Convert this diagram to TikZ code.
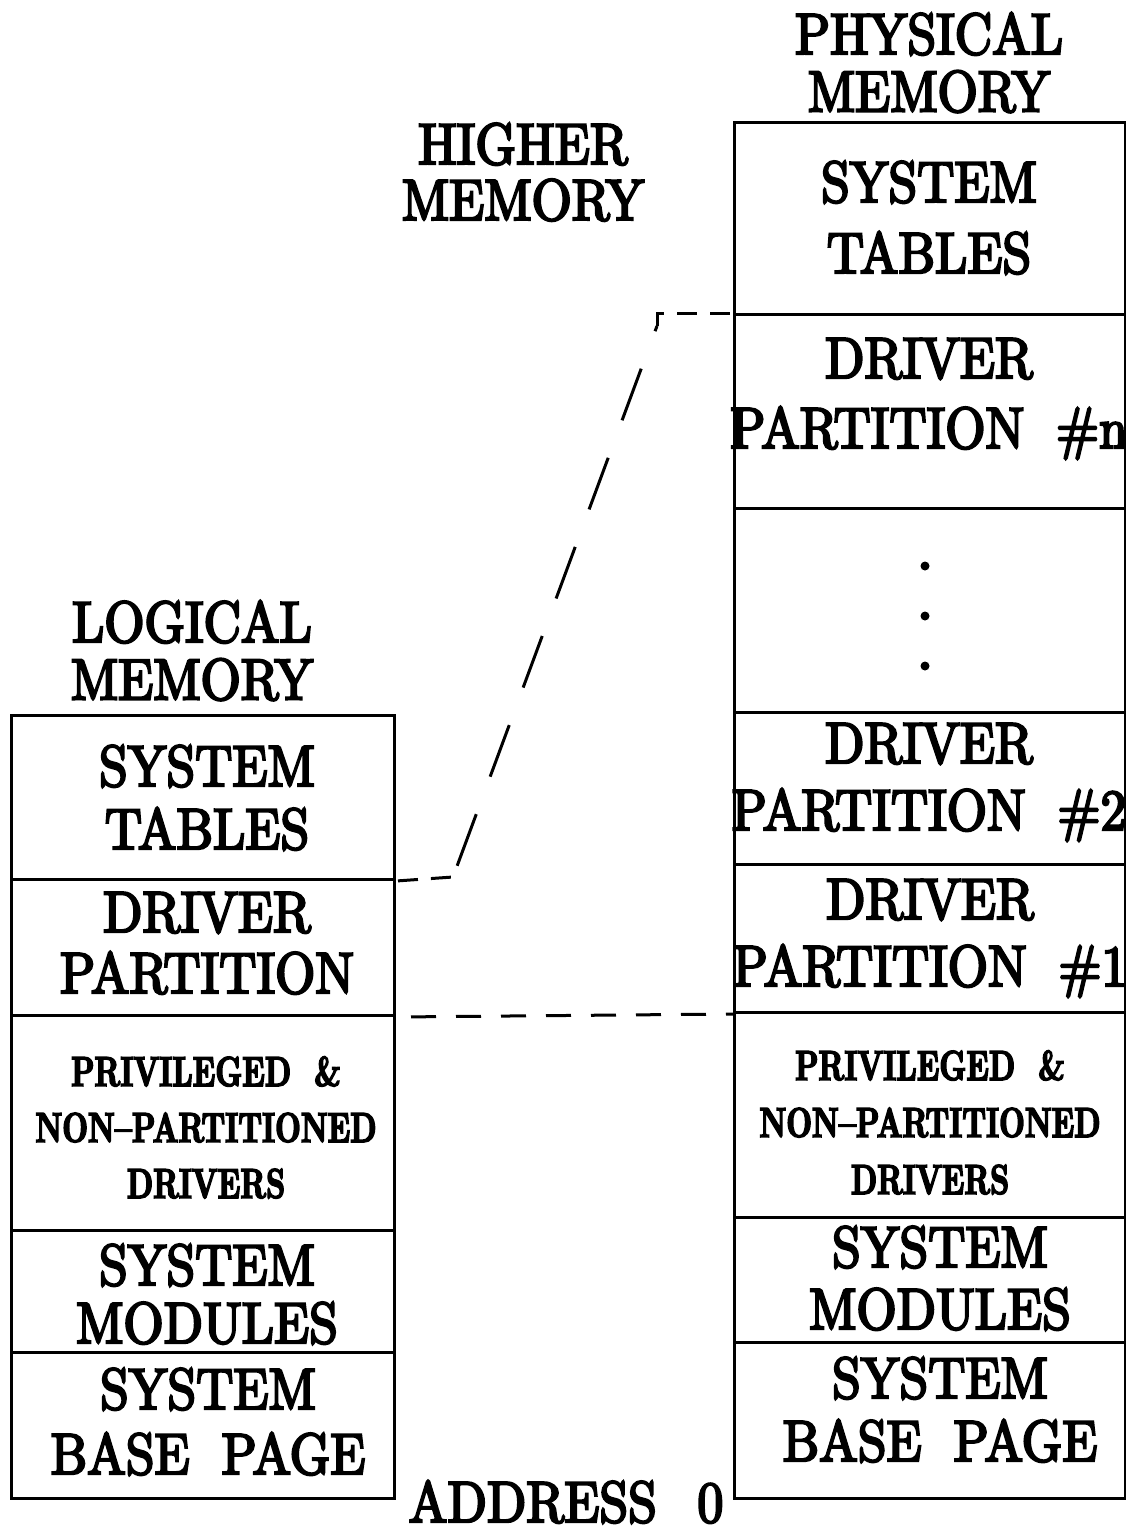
\documentclass[tikz,border=0pt]{standalone}
\usetikzlibrary{calc}

% Faces: a narrowed, thickened roman for the large labels and a
% heavy, narrowed bold for the small driver labels.
\font\bigfont="[lmroman10-regular.otf]:extend=0.89;embolden=4" at 58pt
\font\privfont="[lmroman10-bold.otf]:extend=0.71;embolden=3.5" at 42pt

% Multi-line labels: first argument is the line spacing, second the rows.
\newcommand\biglines[2]{{\fontsize{58}{#1}\selectfont\bigfont
  \begin{tabular}[t]{@{}c@{}}#2\end{tabular}}}
\newcommand\boldlines[2]{{\fontsize{42}{#1}\selectfont\privfont
  \begin{tabular}[t]{@{}c@{}}#2\end{tabular}}}
\newcommand\wgap{\hspace{0.55em}}

\begin{document}
\begin{tikzpicture}[x=1pt,y=-1pt,
  cell/.style={draw=black, line width=3pt, rectangle, inner sep=0pt,
    anchor=north west},
  txt/.style={anchor=base, inner sep=0pt, text=black},
  link/.style={draw=black, line width=3pt},
  dot/.style={circle, fill=black, inner sep=0pt, minimum size=9pt}]

\useasboundingbox (0,0) rectangle (1126,1532);

% ---------------- logical memory column ----------------
\node[cell, minimum width=383pt, minimum height=164pt] (Ltab)  at (10,714)  {};
\node[cell, minimum width=383pt, minimum height=136pt] (Ldrv)  at (10,878)  {};
\node[cell, minimum width=383pt, minimum height=215pt] (Lpriv) at (10,1014) {};
\node[cell, minimum width=383pt, minimum height=122pt] (Lmod)  at (10,1229) {};
\node[cell, minimum width=383pt, minimum height=146pt] (Lbase) at (10,1351) {};

\node[txt] (tLog)   at (192,642)  {\biglines{55}{LOGICAL\\MEMORY}};
\node[txt] (xLtab)  at (207,786)  {\biglines{63}{SYSTEM\\TABLES}};
\node[txt] (xLdrv)  at (207,932)  {\biglines{61}{DRIVER\\PARTITION}};
\node[txt] (xLpriv) at (206,1086) {\boldlines{56}{PRIVILEGED\wgap\&\\NON–PARTITIONED\\DRIVERS}};
\node[txt] (xLmod)  at (207,1285) {\biglines{57}{SYSTEM\\MODULES}};
\node[txt] (xLbase) at (208,1409) {\biglines{65}{SYSTEM\\BASE\wgap PAGE}};

% ---------------- physical memory column ----------------
\node[cell, minimum width=391pt, minimum height=192pt] (Rtab)  at (733,121)  {};
\node[cell, minimum width=391pt, minimum height=194pt] (Rdn)   at (733,313)  {};
\node[cell, minimum width=391pt, minimum height=204pt] (Rdots) at (733,507)  {};
\node[cell, minimum width=391pt, minimum height=152pt] (Rd2)   at (733,711)  {};
\node[cell, minimum width=391pt, minimum height=148pt] (Rd1)   at (733,863)  {};
\node[cell, minimum width=391pt, minimum height=205pt] (Rpriv) at (733,1011) {};
\node[cell, minimum width=391pt, minimum height=125pt] (Rmod)  at (733,1216) {};
\node[cell, minimum width=391pt, minimum height=156pt] (Rbase) at (733,1341) {};

\node[txt] (tPhys)  at (929,54)   {\biglines{55}{PHYSICAL\\MEMORY}};
\node[txt] (xRtab)  at (929,202)  {\biglines{71}{SYSTEM\\TABLES}};
\node[txt] (xRdn)   at (929,378)  {\biglines{70}{DRIVER\\PARTITION\wgap\#n}};
\node[txt] (xRd2)   at (929,763)  {\biglines{67}{DRIVER\\PARTITION\wgap\#2}};
\node[txt] (xRd1)   at (930,919)  {\biglines{67}{DRIVER\\PARTITION\wgap\#1}};
\node[txt] (xRpriv) at (930,1080) {\boldlines{57}{PRIVILEGED\wgap\&\\NON–PARTITIONED\\DRIVERS}};
\node[txt] (xRmod)  at (940,1267) {\biglines{62}{SYSTEM\\MODULES}};
\node[txt] (xRbase) at (940,1398) {\biglines{63}{SYSTEM\\BASE\wgap PAGE}};

\node[dot] (d1) at (925,566) {};
\node[dot] (d2) at (925,616) {};
\node[dot] (d3) at (925,666) {};

% ---------------- free labels ----------------
\node[txt] (tHigh) at (523,164)  {\biglines{50}{HIGHER\\MEMORY}};
\node[txt, font=\bigfont] (tAddr) at (566,1522) {ADDRESS\hspace{0.7em}0};

% ---------------- dashed mapping lines ----------------
\coordinate (k1) at (453,877);
\coordinate (k2) at (657,326);
\draw[link, dash pattern=on 20pt off 13pt, dash phase=-2pt] (Ltab.south east) -- (k1);
\draw[link, dash pattern=on 55pt off 40pt, dash phase=-12pt] (k1) -- (k2);
\draw[link, dash pattern=on 20pt off 13pt] (k2) -- (k2 |- Rdn.north) -- (Rdn.north west);
\draw[link, dash pattern=on 25pt off 20pt, dash phase=30pt] (Ldrv.south east) -- (Rd1.south west);

\end{tikzpicture}
\end{document}
